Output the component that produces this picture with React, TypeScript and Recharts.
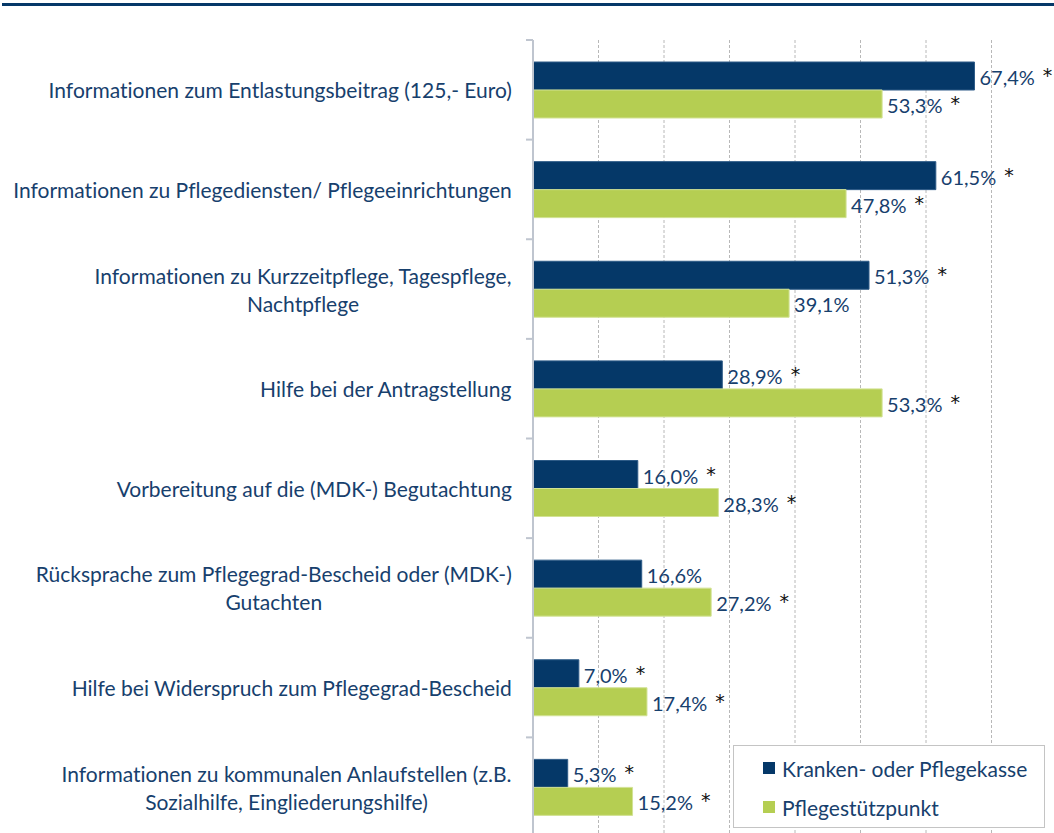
import React from 'react';
import { BarChart, Bar, XAxis, YAxis, CartesianGrid, Legend, LabelList } from 'recharts';

// survey results in percent
const categories = [
  'Informationen zum Entlastungsbeitrag (125,- Euro)',
  'Informationen zu Pflegediensten/ Pflegeeinrichtungen',
  'Informationen zu Kurzzeitpflege, Tagespflege,\nNachtpflege',
  'Hilfe bei der Antragstellung',
  'Vorbereitung auf die (MDK-) Begutachtung',
  'Rücksprache zum Pflegegrad-Bescheid oder (MDK-)\nGutachten',
  'Hilfe bei Widerspruch zum Pflegegrad-Bescheid',
  'Informationen zu kommunalen Anlaufstellen (z.B.\nSozialhilfe, Eingliederungshilfe)',
];
const kasseValues = [67.4, 61.5, 51.3, 28.9, 16.0, 16.6, 7.0, 5.3];
const stuetzValues = [53.3, 47.8, 39.1, 53.3, 28.3, 27.2, 17.4, 15.2];
const kasseStars = [true, true, true, true, true, false, true, true];
const stuetzStars = [true, true, false, true, true, true, true, true];
const xTicks = [0, 10, 20, 30, 40, 50, 60, 70, 80];
const seriesNames = ['Kranken- oder Pflegekasse', 'Pflegestützpunkt'];

const NAVY = '#053868';
const GREEN = '#b5ce52';
const TEXT = '#17406d';
const FONT = 'Lato, "Open Sans", sans-serif';
const FS = 20;
const CAT_FS = 21;

const AXIS_X = 533;
const PLOT_TOP = 40;
const PLOT_BOTTOM = 837;
const BAND = (PLOT_BOTTOM - PLOT_TOP) / categories.length;

const data = categories.map((name, i) => ({
  name,
  kasse: kasseValues[i],
  stuetz: stuetzValues[i],
}));

let ctx: CanvasRenderingContext2D | null = null;
function textWidth(s: string) {
  if (!ctx) ctx = document.createElement('canvas').getContext('2d');
  if (!ctx) return s.length * CAT_FS * 0.5;
  ctx.font = `${CAT_FS}px Lato`;
  (ctx as any).fontVariantLigatures = 'none';
  return ctx.measureText(s).width;
}

function CategoryTick(props: any) {
  const { y, payload, index } = props;
  const lines: string[] = String(payload.value).split('\n');
  const maxW = Math.max(...lines.map(textWidth));
  const cx = AXIS_X - 21 - maxW / 2;
  const lh = 28;
  const y0 = y - ((lines.length - 1) * lh) / 2;
  return (
    <g>
      <line x1={AXIS_X - 7} x2={AXIS_X} y1={y - BAND / 2} y2={y - BAND / 2} stroke="#bfc5cf" strokeWidth={2} />
      {index === categories.length - 1 && (
        <line x1={AXIS_X - 7} x2={AXIS_X} y1={y + BAND / 2} y2={y + BAND / 2} stroke="#bfc5cf" strokeWidth={2} />
      )}
      <text textAnchor="middle" fill={TEXT} fontFamily={FONT} fontSize={CAT_FS} style={{ fontVariantLigatures: 'none' }}>
        {lines.map((l, i) => (
          <tspan key={i} x={cx} y={y0 + i * lh} dominantBaseline="central">{l}</tspan>
        ))}
      </text>
    </g>
  );
}

function makeValueLabel(stars: boolean[]) {
  return function ValueLabel(props: any) {
    const { x, y, width, height, value, index } = props;
    const txt = Number(value).toFixed(1).replace('.', ',') + '%';
    return (
      <text x={x + width + 5} y={y + height / 2 + 1} dominantBaseline="central" fontFamily={FONT} fontSize={FS} fill={TEXT}>
        {txt}
        {stars[index] && (
          <tspan dx={8} dy={-2} fill="#111" fontFamily="DejaVu Sans" fontSize={19}>*</tspan>
        )}
      </text>
    );
  };
}

function LegendBox() {
  const colors = [NAVY, GREEN];
  return (
    <div style={{ position: 'relative', width: 312, height: 83, boxSizing: 'border-box', border: '1px solid #c4c4c4', background: '#fff', fontFamily: FONT, fontSize: 21, color: TEXT }}>
      {seriesNames.map((n, i) => (
        <div key={n} style={{ position: 'absolute', left: 29, top: 9 + i * 39, height: 26, display: 'flex', alignItems: 'center', whiteSpace: 'nowrap' }}>
          <span style={{ display: 'inline-block', width: 12, height: 12, background: colors[i], marginRight: 7 }} />
          {n}
        </div>
      ))}
    </div>
  );
}

export default function App() {
  return (
    <div style={{ position: 'fixed', left: 0, top: 0, width: 1054, height: 833, overflow: 'hidden', background: '#fff' }}>
      <div style={{ position: 'absolute', left: 2, right: 0, top: 3, height: 3, background: NAVY }} />
      <BarChart
        width={1070}
        height={845}
        data={data}
        layout="vertical"
        margin={{ top: PLOT_TOP, right: 13, bottom: 845 - PLOT_BOTTOM, left: 0 }}
        barGap={0}
      >
        <CartesianGrid horizontal={false} stroke="#b8b8b8" strokeDasharray="3 2" />
        <XAxis type="number" domain={[0, 80]} ticks={xTicks} hide />
        <YAxis
          type="category"
          dataKey="name"
          width={AXIS_X}
          axisLine={{ stroke: '#bfc5cf', strokeWidth: 2 }}
          tickLine={false}
          tick={<CategoryTick />}
          interval={0}
        />
        <Legend
          layout="vertical"
          align="center"
          verticalAlign="middle"
          content={<LegendBox />}
          wrapperStyle={{ left: 733, top: 745, width: 312, height: 83 }}
        />
        <Bar dataKey="kasse" name={seriesNames[0]} fill={NAVY} stroke="#2e5b87" strokeWidth={1} barSize={28} isAnimationActive={false}>
          <LabelList dataKey="kasse" content={makeValueLabel(kasseStars)} />
        </Bar>
        <Bar dataKey="stuetz" name={seriesNames[1]} fill={GREEN} stroke="#d2e294" strokeWidth={1} barSize={28} isAnimationActive={false}>
          <LabelList dataKey="stuetz" content={makeValueLabel(stuetzStars)} />
        </Bar>
      </BarChart>
    </div>
  );
}
